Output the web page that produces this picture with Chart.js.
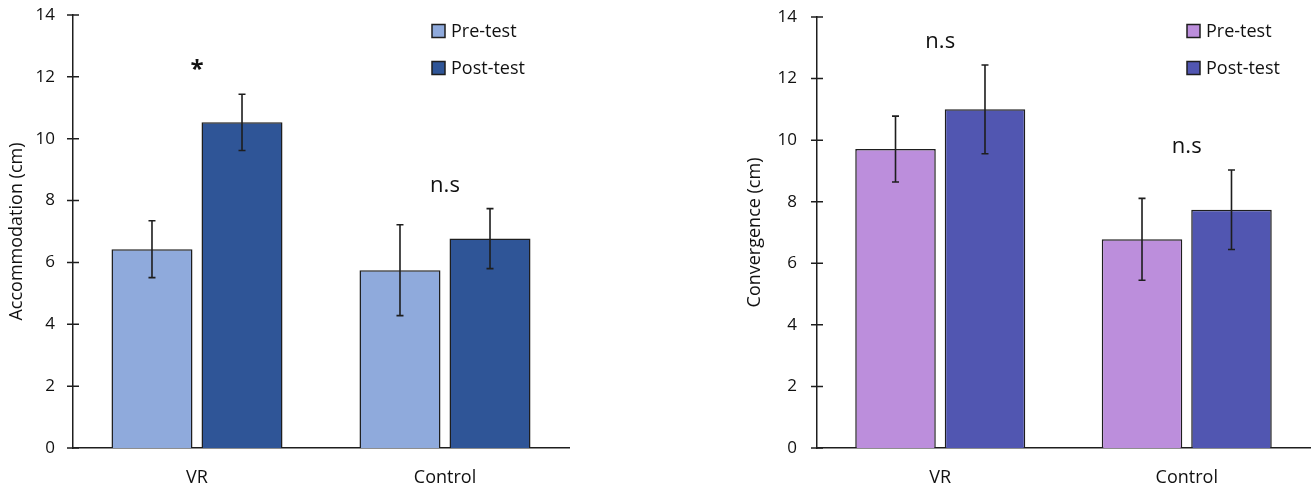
<!DOCTYPE html>
<html>
<head>
<meta charset="utf-8">
<script src="https://cdn.jsdelivr.net/npm/chart.js@4.4.1/dist/chart.umd.min.js"></script>
<style>
    html, body { margin: 0; padding: 0; background: #fff; }
    #wrap { position: relative; width: 1313px; height: 493px; }
    canvas { position: absolute; top: 0; }
</style>
</head>
<body>
<div id="wrap">
    <canvas id="accChart" width="575" height="493" style="left:0px"></canvas>
    <canvas id="convChart" width="613" height="493" style="left:700px"></canvas>
</div>
<script>
var groups = ['VR', 'Control'];
var seriesNames = ['Pre-test', 'Post-test'];
var yTickValues = [0, 2, 4, 6, 8, 10, 12, 14];

// accommodation (cm), mean and error
var accPre = [6.43, 5.75];
var accPreErr = [0.92, 1.47];
var accPost = [10.53, 6.77];
var accPostErr = [0.91, 0.97];
var accMarks = ['*', 'n.s'];

// convergence (cm), mean and error
var convPre = [9.71, 6.78];
var convPreErr = [1.07, 1.33];
var convPost = [11.0, 7.74];
var convPostErr = [1.44, 1.29];
var convMarks = ['n.s', 'n.s'];

const FONT = "'Open Sans', 'Noto Sans', sans-serif";
const INK = '#1e1e1e';

/// SUMMARY
///        error bars, drawn from dataset.errors through the y scale
var errorBarPlugin = {
    id: 'errorBars',
    afterDatasetsDraw: function (chart) {
        const ctx = chart.ctx;
        const yScale = chart.scales.y;
        ctx.save();
        ctx.strokeStyle = INK;
        ctx.lineWidth = 1.6;
        chart.data.datasets.forEach((ds, i) => {
            const meta = chart.getDatasetMeta(i);
            meta.data.forEach((bar, j) => {
                const v = ds.data[j];
                const e = ds.errors[j];
                const yTop = yScale.getPixelForValue(v + e);
                const yBot = yScale.getPixelForValue(v - e);
                const cap = 3.5;
                ctx.beginPath();
                ctx.moveTo(bar.x, yTop);
                ctx.lineTo(bar.x, yBot);
                ctx.moveTo(bar.x - cap, yTop);
                ctx.lineTo(bar.x + cap, yTop);
                ctx.moveTo(bar.x - cap, yBot);
                ctx.lineTo(bar.x + cap, yBot);
                ctx.stroke();
            });
        });
        ctx.restore();
    }
};

/// SUMMARY
///        tick marks crossing the y axis line
var crossTickPlugin = {
    id: 'crossTicks',
    afterDraw: function (chart) {
        const ctx = chart.ctx;
        const yScale = chart.scales.y;
        const x = chart.chartArea.left;
        ctx.save();
        ctx.strokeStyle = INK;
        ctx.lineWidth = 1.5;
        ctx.beginPath();
        yScale.ticks.forEach((t) => {
            const y = yScale.getPixelForValue(t.value);
            ctx.moveTo(x - 6, y);
            ctx.lineTo(x + 6, y);
        });
        ctx.stroke();
        ctx.restore();
    }
};

/// SUMMARY
///        significance labels above each group
var marksPlugin = {
    id: 'sigMarks',
    afterDatasetsDraw: function (chart, args, opts) {
        const ctx = chart.ctx;
        const xScale = chart.scales.x;
        const yScale = chart.scales.y;
        ctx.save();
        ctx.fillStyle = '#111';
        ctx.textAlign = 'center';
        ctx.textBaseline = 'alphabetic';
        opts.labels.forEach((label, j) => {
            var top = 0;
            chart.data.datasets.forEach((ds) => {
                top = Math.max(top, ds.data[j] + ds.errors[j]);
            });
            ctx.font = (label === '*' ? 'bold 24px ' : '22px ') + FONT;
            ctx.fillText(label, xScale.getPixelForValue(j), yScale.getPixelForValue(top) - 17);
        });
        ctx.restore();
    }
};

/// SUMMARY
///        stacked legend in the top right corner
var boxLegendPlugin = {
    id: 'boxLegend',
    afterDraw: function (chart, args, opts) {
        const ctx = chart.ctx;
        ctx.save();
        ctx.font = '18px ' + FONT;
        ctx.textBaseline = 'middle';
        ctx.textAlign = 'left';
        chart.data.datasets.forEach((ds, i) => {
            const cy = opts.y + i * opts.gap;
            ctx.fillStyle = ds.backgroundColor;
            ctx.fillRect(opts.x, cy - 6.5, 13, 13);
            ctx.strokeStyle = INK;
            ctx.lineWidth = 1.5;
            ctx.strokeRect(opts.x, cy - 6.5, 13, 13);
            ctx.fillStyle = '#111';
            ctx.fillText(ds.label, opts.x + 19, cy + 1);
        });
        ctx.restore();
    }
};

function createBarGraph(elementId, yTitle, pre, preErr, post, postErr, colors, marks, layout) {
    const canvas = document.getElementById(elementId);

    const data = {
        labels: groups,
        datasets: [
            {
                label: seriesNames[0],
                data: pre,
                errors: preErr,
                backgroundColor: colors[0],
                borderColor: INK,
                borderWidth: 1.5,
                categoryPercentage: 0.726,
                barPercentage: 0.9,
            },
            {
                label: seriesNames[1],
                data: post,
                errors: postErr,
                backgroundColor: colors[1],
                borderColor: INK,
                borderWidth: 1.5,
                categoryPercentage: 0.726,
                barPercentage: 0.9,
            }
        ]
    };

    const config = {
        type: 'bar',
        data: data,
        options: {
            responsive: false,
            animation: false,
            layout: {
                autoPadding: false,
                padding: layout.padding
            },
            scales: {
                x: {
                    grid: { display: false, drawTicks: false },
                    border: { display: true, color: INK, width: 1.5 },
                    ticks: {
                        color: '#111',
                        padding: 19,
                        font: { family: FONT, size: 18 }
                    },
                    afterFit: function (scale) { scale.height = 45; }
                },
                y: {
                    min: 0,
                    max: 14,
                    afterBuildTicks: function (scale) {
                        scale.ticks = yTickValues.map((v) => ({ value: v }));
                    },
                    // tick padding pushes the scale top down, so the gap comes from tickLength
                    grid: { display: false, drawTicks: true, tickLength: layout.tickPad },
                    border: { display: true, color: INK, width: 1.5 },
                    ticks: {
                        color: '#111',
                        padding: 0,
                        font: { family: FONT, size: 17 }
                    },
                    title: {
                        display: true,
                        text: yTitle,
                        color: '#111',
                        padding: { top: 6, bottom: 0 },
                        font: { family: FONT, size: 18 }
                    },
                    afterFit: function (scale) { scale.width = layout.yWidth; }
                }
            },
            plugins: {
                legend: { display: false },
                tooltip: { enabled: false },
                sigMarks: { labels: marks },
                boxLegend: layout.legend
            }
        },
        plugins: [errorBarPlugin, crossTickPlugin, marksPlugin, boxLegendPlugin]
    };

    return new Chart(canvas, config);
}

createBarGraph('accChart', 'Accommodation (cm)', accPre, accPreErr, accPost, accPostErr,
    ['#8faadc', '#2f5597'], accMarks,
    { padding: { left: 0, top: 15, right: 6, bottom: 0 }, yWidth: 73, tickPad: 18,
      legend: { x: 432, y: 31, gap: 37 } });

createBarGraph('convChart', 'Convergence (cm)', convPre, convPreErr, convPost, convPostErr,
    ['#bc8edc', '#5156b1'], convMarks,
    { padding: { left: 38, top: 17, right: 3, bottom: 0 }, yWidth: 79, tickPad: 20,
      legend: { x: 487, y: 31, gap: 37 } });
</script>
</body>
</html>
